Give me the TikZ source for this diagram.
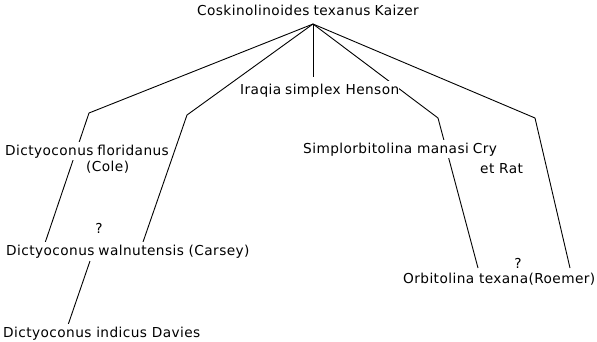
\documentclass[tikz,border=0pt]{standalone}
\usepackage{fontspec}
\setmainfont{DejaVu Sans}[LetterSpace=3]
\newcommand\xgap{\hspace{4pt}}
\begin{document}
\begin{tikzpicture}[x=1pt,y=-1pt,
  lbl/.style={font=\fontsize{13.7}{15}\selectfont, inner xsep=0pt, inner ysep=2.5pt, fill=white, text=black},
  link/.style={draw=black, line width=0.9pt, line join=round}]
\useasboundingbox (0,0) rectangle (597,341);
\fill[white] (0,0) rectangle (597,341);

% coordinates of the tree
\coordinate (apex) at (313,24);
\coordinate (k1) at (89,113);
\coordinate (e1) at (45,243);
\coordinate (k2) at (187,115);
\coordinate (e2) at (143,242);
\coordinate (e3) at (313,77);
\coordinate (k4) at (438,118);
\coordinate (e4) at (478,268);
\coordinate (k5) at (535,118);
\coordinate (e5) at (570,268);
\coordinate (s6) at (90,261);
\coordinate (e6) at (68,325);

% connectors (drawn first, labels mask them)
\draw[link] (apex) -- (k1) -- (e1);
\draw[link] (apex) -- (k2) -- (e2);
\draw[link] (apex) -- (e3);
\draw[link] (apex) -- (k4) -- (e4);
\draw[link] (apex) -- (k5) -- (e5);
\draw[link] (s6) -- (e6);

% labels
\node[lbl, anchor=base] (root) at (308,15) {Coskinolinoides\xgap texanus\xgap Kaizer};
\node[lbl, anchor=base west] (iraqia) at (240,94) {Iraqia\xgap simplex Henson};
\node[lbl, anchor=base west] (florid) at (5,155) {Dictyoconus\xgap floridanus};
\node[lbl, anchor=base west, fill=none] (cole) at (86,171) {(Cole)};
\node[lbl, anchor=base, fill=none] (q1) at (99,233) {?};
\node[lbl, anchor=base west] (walnut) at (6,255) {Dictyoconus\xgap walnutensis (Carsey)};
\node[lbl, anchor=base west] (indicus) at (3,337) {Dictyoconus indicus Davies};
\node[lbl, anchor=base west] (simpl) at (303,153) {Simplorbitolina manasi\xgap Cry};
\node[lbl, anchor=base west, fill=none] (etrat) at (480,173) {et Rat};
\node[lbl, anchor=base, fill=none] (q2) at (518,268) {?};
\node[lbl, anchor=base east, fill=none] (orbit) at (595.5,283) {Orbitolina texana(Roemer)};
\end{tikzpicture}
\end{document}
